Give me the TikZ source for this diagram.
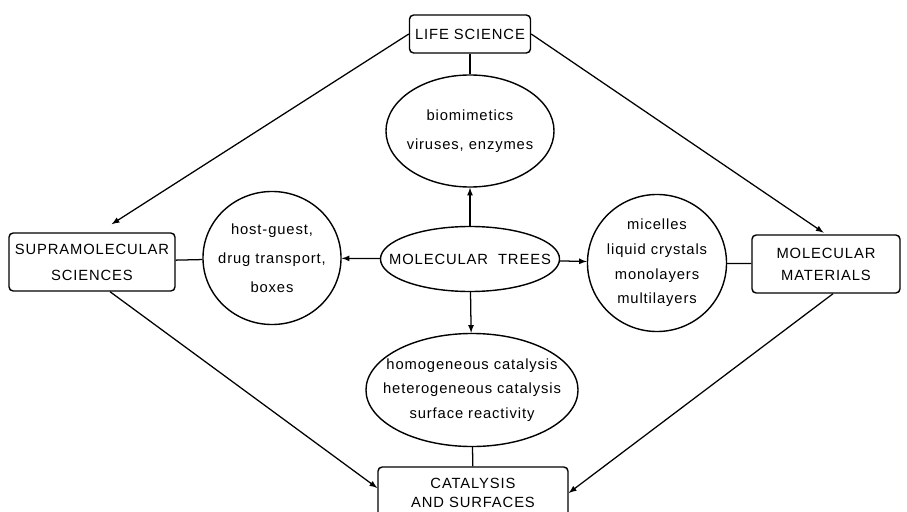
\documentclass[tikz,border=0pt]{standalone}
\usepackage{fontspec}
\usetikzlibrary{shapes.geometric}
\newfontfamily\lettrage[LetterSpace=6]{Liberation Sans}
\begin{document}
\begin{tikzpicture}[x=0.025cm, y=-0.025cm]
\tikzset{domaine/.style={draw, rounded corners=3pt, line width=1pt, align=center, inner sep=0pt, font=\lettrage\fontsize{10.5}{12.6}\selectfont}}
\tikzset{bulle/.style={draw, ellipse, line width=1pt, align=center, inner sep=-1.5cm, font=\lettrage\fontsize{10.5}{12.6}\selectfont}}
\tikzset{trait/.style={line width=0.9pt}}
\tikzset{fleche/.style={->, >=latex, line width=0.9pt}}
\useasboundingbox (0,0) rectangle (907,512);
\clip (0,0) rectangle (907,512);
\node[domaine, minimum width=3.025cm, minimum height=0.95cm] (LS) at (470,34) {LIFE SCIENCE};
\node[bulle, minimum width=4.2cm, minimum height=2.8cm] (BIO) at (470,131) {biomimetics\\[8pt]viruses, enzymes};
\node[bulle, minimum width=4.475cm, minimum height=1.625cm] (MT) at (470,259) {MOLECULAR\ \ TREES};
\node[bulle, minimum width=3.45cm, minimum height=3.325cm] (HG) at (272,258) {host-guest,\\[8pt]drug transport,\\[8pt]boxes};
\node[bulle, minimum width=3.475cm, minimum height=3.425cm] (MIC) at (657,263) {micelles\\[5pt]liquid crystals\\[5pt]monolayers\\[5pt]multilayers};
\node[bulle, minimum width=5.3cm, minimum height=2.825cm] (HOM) at (472,390) {homogeneous catalysis\\[5pt]heterogeneous catalysis\\[5pt]surface reactivity};
\node[domaine, minimum width=4.15cm, minimum height=1.45cm] (SS) at (92,262) {SUPRAMOLECULAR\\[6pt]SCIENCES};
\node[domaine, minimum width=3.7cm, minimum height=1.45cm] (MM) at (826,264) {MOLECULAR\\[3pt]MATERIALS};
\node[domaine, minimum width=4.75cm, minimum height=1.3cm] (CS) at (473,493) {CATALYSIS\\[1pt]AND SURFACES};
\draw[trait] (LS) -- (BIO);
\draw[fleche] (MT) -- (BIO);
\draw[fleche] (MT) -- (HG);
\draw[fleche] (MT) -- (MIC);
\draw[fleche] (MT) -- (HOM);
\draw[trait] (HOM) -- (CS);
\draw[trait] (HG) -- (SS);
\draw[trait] (MIC) -- (MM);
\draw[fleche, shorten >=0.375cm] (LS.west) -- ([xshift=0.175cm]SS.north);
\draw[fleche, shorten >=2pt] (LS.east) -- (MM.north);
\draw[fleche] ([xshift=0.45cm]SS.south) -- ([yshift=0.125cm]CS.west);
\draw[fleche] ([xshift=0.175cm]MM.south) -- (CS.east);
\end{tikzpicture}
\end{document}
